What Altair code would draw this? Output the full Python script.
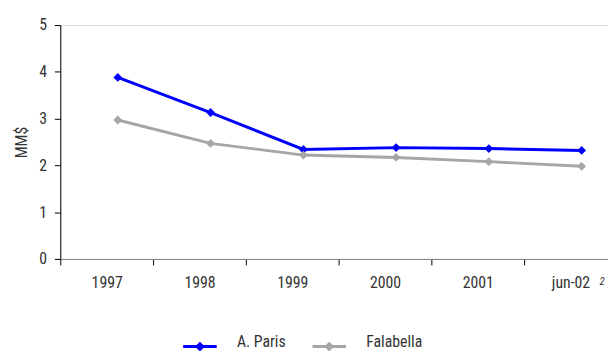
import altair as alt
import pandas as pd

categories = ["1997", "1998", "1999", "2000", "2001", "jun-02"]
paris = [3.88, 3.13, 2.34, 2.38, 2.36, 2.32]
falabella = [2.97, 2.47, 2.22, 2.17, 2.08, 1.98]
series_names = ["A. Paris", "Falabella"]
colors = ["#0000FF", "#A6A6A6"]

rows = []
for i, c in enumerate(categories):
    rows.append({"cat": c, "idx": i, "serie": series_names[0], "value": paris[i]})
    rows.append({"cat": c, "idx": i, "serie": series_names[1], "value": falabella[i]})
df = pd.DataFrame(rows)

FONT = "Liberation Sans Narrow, Arial Narrow, Roboto Condensed, Liberation Sans, sans-serif"
W, H = 555, 237
BAND = 94.0
xmax = W / BAND

label_expr = "[" + ",".join("'%s'" % c for c in categories) + "][round(datum.value - 0.5)]"

x_scale = alt.Scale(domain=[0, xmax], nice=False, zero=False)

lines = alt.Chart(df).transform_calculate(
    xpos="datum.idx + 0.62"
).mark_line(
    strokeWidth=3,
    point=alt.OverlayMarkDef(shape="diamond", size=80, filled=True),
).encode(
    x=alt.X("xpos:Q", scale=x_scale,
            axis=alt.Axis(values=[i + 0.5 for i in range(len(categories))],
                          labelExpr=label_expr, tickOffset=-BAND / 2,
                          labelOffset=BAND / 2, title=None, grid=False,
                          domainColor="#808080", tickColor="#000000",
                          tickSize=6, labelPadding=10, labelFontSize=16,
                          labelFont=FONT, labelColor="#333333")),
    y=alt.Y("value:Q", scale=alt.Scale(domain=[0, 5], nice=False),
            axis=alt.Axis(values=[0, 1, 2, 3, 4, 5], title="MM$", grid=False,
                          domainColor="#000000", tickColor="#000000",
                          tickSize=6, labelPadding=8, labelFontSize=16,
                          labelFont=FONT, labelColor="#333333",
                          titleFont=FONT, titleFontSize=16,
                          titleFontWeight="normal", titleColor="#333333",
                          titlePadding=9)),
    color=alt.Color("serie:N",
                    scale=alt.Scale(domain=series_names, range=colors),
                    legend=alt.Legend(
                        title=None, orient="none", direction="horizontal",
                        legendX=123, legendY=307, padding=0,
                        symbolType="M-1,0H1M0,-0.17L0.17,0L0,0.17L-0.17,0Z",
                        symbolSize=1156, symbolStrokeWidth=3,
                        labelOffset=19, columnPadding=20,
                        labelFont=FONT, labelFontSize=16,
                        labelColor="#333333", labelBaseline="alphabetic")),
)

note = alt.Chart(pd.DataFrame({"t": ["2"]})).mark_text(
    font=FONT, fontSize=11, fontStyle="italic", baseline="top",
    align="center", color="#333333"
).encode(text="t:N", x=alt.value(549), y=alt.value(254))

chart = alt.layer(lines, note).properties(
    width=W, height=H,
    autosize=alt.AutoSizeParams(type="none"),
    padding={"left": 53, "top": 15, "right": 0, "bottom": 91},
).configure_view(stroke=None).configure(background="white")

chart.save("out.html", embed_options={"renderer": "svg", "actions": False})
